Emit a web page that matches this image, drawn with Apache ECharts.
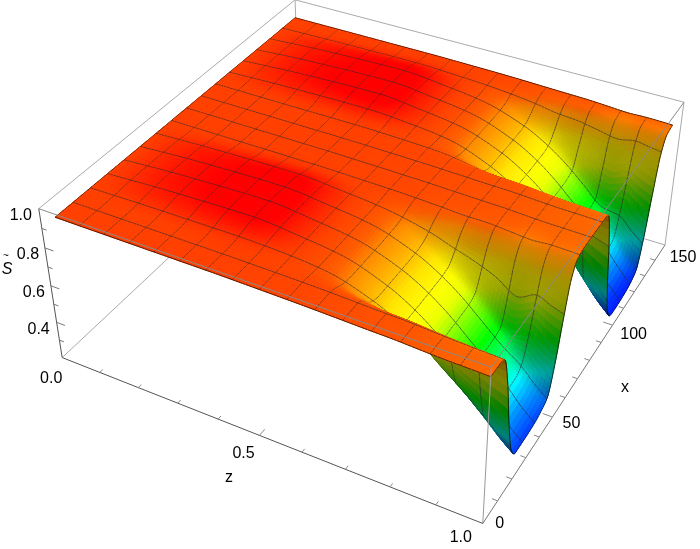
<!DOCTYPE html>
<html>
<head>
<meta charset="utf-8">
<style>html,body{margin:0;padding:0;background:#fff}#c{width:700px;height:549px}</style>
<script src="https://cdn.jsdelivr.net/npm/echarts@6/dist/echarts.min.js"></script>
</head>
<body>
<div id="c"></div>
<script>
// ---- values ----
const xColumns = [0,3,6,9,12,15,18,21,24,28,32,36,40,44,48,52,56,60,65,70,75,78,81,84,87,90,93,96,99,103,107,111,115,119,123,127,131,135,140];
const zRows = [0.04,0.2,0.4,0.5,0.6,0.7,0.75,0.8,0.85,0.9,0.94,0.97,1.0];
const sAtZ004 = [.985,.985,.985,.985,.985,.985,.985,.985,.985,.985,.985,.985,.985,.985,.985,.985,.985,.985,.985,.985,.985,.985,.985,.985,.985,.985,.985,.985,.985,.985,.985,.985,.985,.985,.985,.985,.985,.985,.985];
const sAtZ020 = [.985,.985,.985,.985,.985,.987,.991,.996,1,1.003,1.005,1.005,1.005,1.004,1.003,.999,.991,.986,.985,.985,.985,.985,.985,.985,.985,.987,.991,.996,1,1.003,1.005,1.005,1.005,1.004,1.003,.999,.991,.986,.985];
const sAtZ040 = [.985,.985,.985,.985,.986,.988,.994,1.002,1.008,1.014,1.016,1.016,1.016,1.014,1.013,1.007,.995,.987,.985,.985,.985,.985,.985,.985,.986,.988,.994,1.002,1.008,1.014,1.016,1.016,1.016,1.014,1.013,1.007,.995,.987,.985];
const sAtZ050 = [.983,.983,.983,.983,.983,.984,.987,.99,.992,.994,.995,.995,.995,.994,.994,.991,.987,.984,.983,.983,.983,.983,.983,.983,.983,.984,.987,.99,.992,.994,.995,.995,.995,.994,.994,.991,.987,.984,.983];
const sAtZ060 = [.98,.98,.98,.98,.976,.97,.966,.965,.965,.965,.965,.965,.965,.966,.966,.968,.974,.979,.98,.98,.98,.98,.98,.98,.976,.97,.966,.965,.965,.965,.965,.965,.965,.966,.966,.968,.974,.979,.98];
const sAtZ070 = [.975,.975,.975,.973,.95,.915,.897,.89,.89,.89,.89,.89,.891,.893,.899,.92,.95,.968,.974,.975,.975,.975,.975,.973,.95,.915,.897,.89,.89,.89,.89,.89,.891,.893,.899,.92,.95,.968,.974];
const sAtZ075 = [.972,.972,.972,.969,.93,.875,.841,.83,.83,.83,.83,.831,.832,.834,.844,.88,.93,.96,.971,.972,.972,.972,.972,.969,.93,.875,.841,.83,.83,.83,.83,.831,.832,.834,.844,.88,.93,.96,.971];
const sAtZ080 = [.97,.97,.97,.966,.91,.825,.768,.75,.75,.75,.751,.752,.753,.757,.772,.84,.92,.96,.968,.97,.97,.97,.97,.966,.91,.825,.768,.75,.75,.75,.751,.752,.753,.757,.772,.84,.92,.96,.968];
const sAtZ085 = [.965,.965,.965,.959,.886,.76,.675,.65,.65,.65,.652,.654,.655,.66,.682,.79,.9,.95,.962,.965,.965,.965,.965,.959,.886,.76,.675,.65,.65,.65,.652,.654,.655,.66,.682,.79,.9,.95,.962];
const sAtZ090 = [.96,.96,.96,.952,.857,.693,.583,.55,.55,.55,.552,.554,.556,.562,.591,.72,.88,.94,.956,.96,.96,.96,.96,.952,.857,.693,.583,.55,.55,.55,.552,.554,.556,.562,.591,.72,.88,.94,.956];
const sAtZ094 = [.958,.958,.958,.948,.835,.635,.5,.465,.465,.465,.467,.47,.472,.499,.603,.761,.899,.948,.957,.958,.958,.958,.958,.948,.828,.621,.481,.44,.44,.44,.443,.447,.455,.476,.585,.751,.896,.948,.958];
const sAtZ097 = [.957,.957,.957,.945,.815,.59,.435,.39,.39,.39,.392,.396,.405,.43,.549,.73,.889,.946,.956,.957,.957,.957,.957,.945,.808,.569,.408,.36,.36,.36,.363,.368,.378,.402,.527,.718,.885,.945,.957];
const sAtZ100 = [.955,.955,.955,.942,.8,.55,.38,.33,.33,.33,.332,.337,.35,.374,.505,.705,.88,.943,.954,.955,.955,.955,.955,.942,.789,.523,.343,.295,.29,.29,.293,.298,.31,.337,.476,.689,.875,.942,.955];
const surfaceRows = [sAtZ004,sAtZ020,sAtZ040,sAtZ050,sAtZ060,sAtZ070,sAtZ075,sAtZ080,sAtZ085,sAtZ090,sAtZ094,sAtZ097,sAtZ100];
const sHeights = [.29,.33,.4,.46,.62,.76,.86,.94,.96,.985,1.01];
const hueAtHeight = [.65,.63,.57,.51,.33,.18,.15,.09,.0625,.042,0];
const zTickLabels = ['0.0','0.5','1.0'], zTickValues = [0,.5,1];
const xTickLabels = ['0','50','100','150'], xTickValues = [0,50,100,150];
const sTickLabels = ['0.4','0.6','0.8','1.0'], sTickValues = [.4,.6,.8,1];
const zRange=[0,1], xRange=[0,150], sRange=[.2,1];

// ---- camera: the box corners of the picture fix the perspective ----
const W=700,H=549;
const corners=[[0,0,0,62,358],[1,0,0,483,523],[1,1,0,665,245],[0,0,1,39,208],[1,0,1,491,368],[1,1,1,684,102],[0,1,1,295,0]];
function solve(A,b){const n=b.length;const M=A.map((r,i)=>r.concat(b[i]));for(let c=0;c<n;c++){let p=c;for(let r=c+1;r<n;r++)if(Math.abs(M[r][c])>Math.abs(M[p][c]))p=r;[M[c],M[p]]=[M[p],M[c]];for(let r=0;r<n;r++){if(r===c)continue;const f=M[r][c]/M[c][c];for(let k=c;k<=n;k++)M[r][k]-=f*M[c][k];}}return M.map((r,i)=>r[n]/r[i]);}
const cam=(function(){const rows=[],rhs=[];corners.forEach(([a,b,c,u,v])=>{rows.push([a,b,c,1,0,0,0,0,-u*a,-u*b,-u*c]);rhs.push(u);rows.push([0,0,0,0,a,b,c,1,-v*a,-v*b,-v*c]);rhs.push(v);});const N=Array.from({length:11},()=>new Array(11).fill(0)),B=new Array(11).fill(0);rows.forEach((r,k)=>{for(let i=0;i<11;i++){B[i]+=r[i]*rhs[k];for(let j=0;j<11;j++)N[i][j]+=r[i]*r[j];}});return solve(N,B);})();
function proj(z,x,s){const a=(z-zRange[0])/(zRange[1]-zRange[0]),b=(x-xRange[0])/(xRange[1]-xRange[0]),c=(s-sRange[0])/(sRange[1]-sRange[0]);const w=cam[8]*a+cam[9]*b+cam[10]*c+1;return [(cam[0]*a+cam[1]*b+cam[2]*c+cam[3])/w,(cam[4]*a+cam[5]*b+cam[6]*c+cam[7])/w,w];}

// ---- smooth drawing of the table (monotone cubic between table values) ----
function tangents(xs,ys){const n=xs.length,d=[],m=new Array(n);for(let i=0;i<n-1;i++)d.push((ys[i+1]-ys[i])/(xs[i+1]-xs[i]));m[0]=d[0];m[n-1]=d[n-2];for(let i=1;i<n-1;i++)m[i]=d[i-1]*d[i]<=0?0:2*d[i-1]*d[i]/(d[i-1]+d[i]);return m;}
function hermite(xs,ys,m,t){let i=0;while(i<xs.length-2&&t>xs[i+1])i++;const h=xs[i+1]-xs[i],u=(t-xs[i])/h,u2=u*u,u3=u2*u;return (2*u3-3*u2+1)*ys[i]+(u3-2*u2+u)*h*m[i]+(-2*u3+3*u2)*ys[i+1]+(u3-u2)*h*m[i+1];}
const meshCells=16,subX=12,subZ=8,nx=meshCells*subX,nz=meshCells*subZ;
const x0=xColumns[0],x1=xColumns[xColumns.length-1],z0=zRows[0],z1=zRows[zRows.length-1];
const fineX=Array.from({length:nx+1},(_,i)=>x0+(x1-x0)*i/nx),fineZ=Array.from({length:nz+1},(_,j)=>z0+(z1-z0)*j/nz);
const rowsFine=surfaceRows.map(r=>{const m=tangents(xColumns,r);return fineX.map(t=>hermite(xColumns,r,m,t));});
const S=fineZ.map(()=>new Array(nx+1));
for(let i=0;i<=nx;i++){const col=rowsFine.map(r=>r[i]),m=tangents(zRows,col);for(let j=0;j<=nz;j++)S[j][i]=hermite(zRows,col,m,fineZ[j]);}

// ---- colours ----
function hueOf(s){if(s<=sHeights[0])return hueAtHeight[0];const n=sHeights.length;if(s>=sHeights[n-1])return hueAtHeight[n-1];let i=0;while(s>sHeights[i+1])i++;return hueAtHeight[i]+(hueAtHeight[i+1]-hueAtHeight[i])*(s-sHeights[i])/(sHeights[i+1]-sHeights[i]);}
function rgb(h,v){h=h*6;const i=Math.floor(h),f=h-i;const t=[[1,f,0],[1-f,1,0],[0,1,f],[0,1-f,1],[f,0,1],[1,0,1-f]][i%6];return 'rgb('+t.map(c=>Math.round(c*v*255)).join(',')+')';}

// ---- cells in painter order ----
const P=S.map((row,j)=>row.map((s,i)=>proj(fineZ[j],fineX[i],s)));
function area(a,b,c,d){return (a[0]*b[1]-b[0]*a[1])+(b[0]*c[1]-c[0]*b[1])+(c[0]*d[1]-d[0]*c[1])+(d[0]*a[1]-a[0]*d[1]);}
const flatSign=Math.sign(area(proj(.5,70,1),proj(.5,71,1),proj(.51,71,1),proj(.51,70,1)));
const cells=[];
const dx=fineX[1]-fineX[0];
for(let j=0;j<nz;j++)for(let i=0;i<nx;i++){
  const a=P[j][i],b=P[j][i+1],c=P[j+1][i+1],d=P[j+1][i];
  const s=(S[j][i]+S[j][i+1]+S[j+1][i]+S[j+1][i+1])/4;
  const il=Math.max(0,i-2),ir=Math.min(nx,i+3);
  const rise=((S[j][ir]+S[j+1][ir])-(S[j][il]+S[j+1][il]))/2/((ir-il)*dx);
  const back=Math.sign(area(a,b,c,d))!==flatSign;
  const v=back?0.5:1-0.5*(1-Math.exp(-Math.max(0,rise-.003)*40));
  cells.push({i,j,depth:(a[2]+b[2]+c[2]+d[2])/4,pts:[a,b,c,d],color:rgb(hueOf(s),v),edges:[]});
}
cells.sort((p,q)=>q.depth-p.depth);
const rank=new Map();cells.forEach((c,k)=>rank.set(c.j*100000+c.i,k));
const rk=(j,i)=>(j<0||i<0||j>=nz||i>=nx)?-1:rank.get(j*100000+i);
const meshColor='rgba(40,40,50,.78)',edgeColor='rgba(0,0,0,.85)';
cells.forEach((c,k)=>{const {i,j}=c;
  const add=(p,q,n,on)=>{if(n<0)c.edges.push([p,q,edgeColor]);else if(on&&k>n)c.edges.push([p,q,meshColor]);};
  add(P[j][i],P[j][i+1],rk(j-1,i),j%subZ===0);
  add(P[j+1][i],P[j+1][i+1],rk(j+1,i),(j+1)%subZ===0);
  add(P[j][i],P[j+1][i],rk(j,i-1),i%subX===0);
  add(P[j][i+1],P[j+1][i+1],rk(j,i+1),(i+1)%subX===0);
});
const cellData=cells.map(c=>[c.pts[0][0],c.pts[0][1]]);

// ---- frame, ticks ----
const [zA,zB]=zRange,[xA,xB]=xRange,[sA,sB]=sRange;
const backLines=[[[zA,xB,sA],[zB,xB,sA],'#aaa'],[[zA,xB,sA],[zA,xA,sA],'#aaa'],[[zA,xB,sA],[zA,xB,sB],'#aaa'],[[zA,xA,sB],[zA,xB,sB],'#aaa'],[[zA,xB,sB],[zB,xB,sB],'#aaa'],[[zB,xB,sA],[zB,xB,sB],'#aaa']];
const frontLines=[[[zA,xA,sB],[zB,xA,sB],'#8a8a8a'],[[zB,xA,sB],[zB,xB,sB],'#8a8a8a'],[[zB,xA,sA],[zB,xA,sB],'#999'],[[zA,xA,sA],[zA,xA,sB],'#555'],[[zA,xA,sA],[zB,xA,sA],'#555'],[[zB,xA,sA],[zB,xB,sA],'#777']];
for(let k=1;k<=9;k++){const v=k/10,m=k===5;frontLines.push([[v,xA,sA],[v,m?3:1.6,sA],'#888']);}
for(let k=1;k<=14;k++){const v=k*10,m=v%50===0;frontLines.push([[zB,v,sA],[m?zB-.022:zB-.012,v,sA],'#888']);}
for(let k=3;k<=9;k++){const v=k/10,m=k%2===0;frontLines.push([[zA,xA,v],[m?.022:.012,xA,v],'#777']);}
const labelItems=[];
const zOff=[[-11,21],[-16,18],[-22,14]],xOff=[[17,0],[19,7],[21,9],[18,13]],sOff=[[-18,7],[-17,7],[-17,7],[-18,7]];
zTickLabels.forEach((t,k)=>{const p=proj(zTickValues[k],xA,sA);labelItems.push([p[0]+zOff[k][0],p[1]+zOff[k][1],t,16,'normal']);});
xTickLabels.forEach((t,k)=>{const p=proj(zB,xTickValues[k],sA);labelItems.push([p[0]+xOff[k][0],p[1]+xOff[k][1],t,16,'normal']);});
sTickLabels.forEach((t,k)=>{const p=proj(zA,xA,sTickValues[k]);labelItems.push([p[0]+sOff[k][0],p[1]+sOff[k][1],t,16,'normal']);});
labelItems.push([229,478,'z',16,'normal'],[625,388,'x',16,'normal'],[7,270,'S',16,'italic'],[6,256,'~',10,'normal']);

function lineSeries(lines,z){return {type:'custom',coordinateSystem:'cartesian2d',silent:true,z,clip:false,animation:false,
  data:lines.map(l=>{const p=proj(l[0][0],l[0][1],l[0][2]);return [p[0],p[1]];}),encode:{x:0,y:1},
  renderItem(params,api){const l=lines[params.dataIndex];const a=api.coord(proj(l[0][0],l[0][1],l[0][2])),b=api.coord(proj(l[1][0],l[1][1],l[1][2]));
    return {type:'line',shape:{x1:a[0],y1:a[1],x2:b[0],y2:b[1]},style:{stroke:l[2],lineWidth:1,fill:null}};}};}

const chart=echarts.init(document.getElementById('c'),null,{renderer:'canvas',width:W,height:H});
chart.setOption({animation:false,backgroundColor:'#fff',
  grid:{left:0,right:0,top:0,bottom:0},
  xAxis:{type:'value',min:0,max:W,show:false},
  yAxis:{type:'value',min:0,max:H,inverse:true,show:false},
  series:[
    lineSeries(backLines,1),
    {type:'custom',coordinateSystem:'cartesian2d',silent:true,z:2,clip:false,animation:false,progressive:0,data:cellData,encode:{x:0,y:1},
     renderItem(params,api){const c=cells[params.dataIndex];const pts=c.pts.map(p=>api.coord([p[0],p[1]]));
       const ch=[{type:'polygon',shape:{points:pts},style:{fill:c.color,stroke:c.color,lineWidth:1}}];
       c.edges.forEach(e=>{const a=api.coord([e[0][0],e[0][1]]),b=api.coord([e[1][0],e[1][1]]);ch.push({type:'line',shape:{x1:a[0],y1:a[1],x2:b[0],y2:b[1]},style:{stroke:e[2],lineWidth:.8,fill:null}});});
       return {type:'group',children:ch};}},
    lineSeries(frontLines,3),
    {type:'custom',coordinateSystem:'cartesian2d',silent:true,z:4,clip:false,animation:false,data:labelItems.map(l=>[l[0],l[1]]),encode:{x:0,y:1},
     renderItem(params,api){const l=labelItems[params.dataIndex];const a=api.coord([l[0],l[1]]);
       return {type:'text',x:a[0],y:a[1],style:{text:l[2],fontFamily:'"Liberation Sans",Arial,sans-serif',fontSize:l[3],fontStyle:l[4],fill:'#000',align:'center',verticalAlign:'middle'}};}}
  ]});
</script>
</body>
</html>
